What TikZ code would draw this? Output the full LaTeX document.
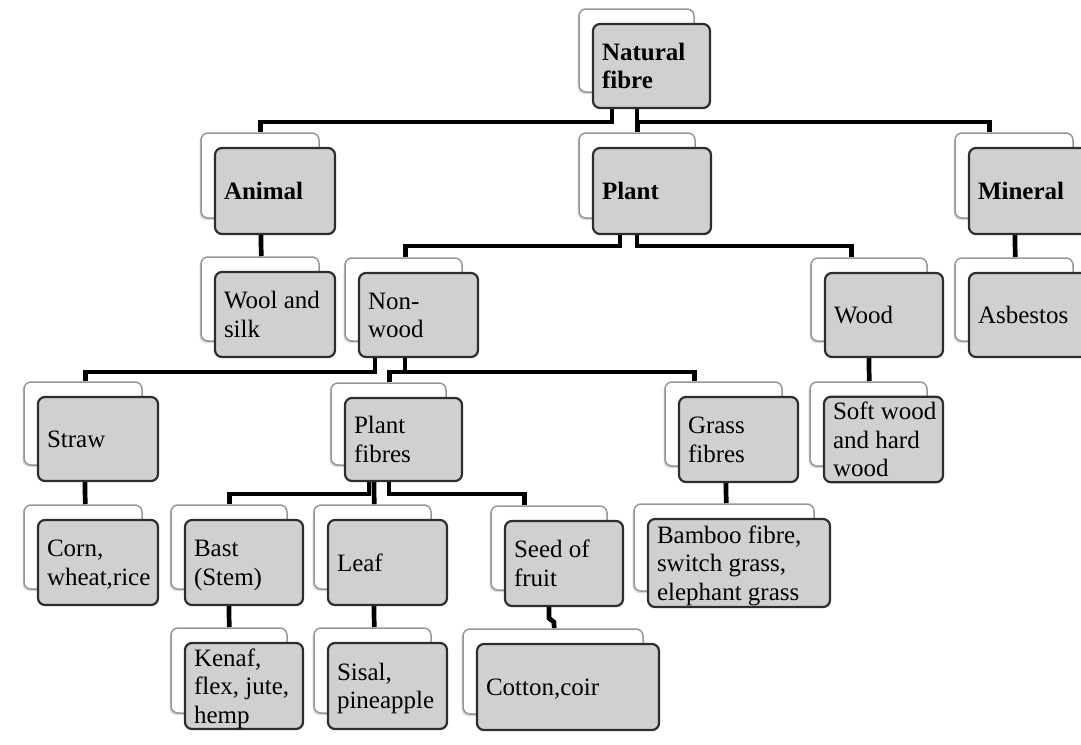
\documentclass[tikz,border=0pt]{standalone}
\usepackage{fontspec}
\setmainfont{Liberation Serif}
\usetikzlibrary{shadows}
\pgfdeclarelayer{bg}
\pgfsetlayers{bg,main}
\definecolor{boxgray}{RGB}{208,208,208}
\definecolor{boxedge}{RGB}{45,45,45}
\definecolor{backedge}{RGB}{150,150,150}
\tikzset{
  backbox/.style={draw=backedge, fill=white, line width=1.5pt, rounded corners=7pt,
    inner sep=0pt, drop shadow={shadow xshift=-1.5pt, shadow yshift=-2pt, fill=black!30, opacity=0.5}},
  frontbox/.style={draw=boxedge, fill=boxgray, line width=2.2pt, rounded corners=7pt,
    inner xsep=9pt, inner ysep=0pt,
    font=\fontsize{25}{28.5}\selectfont},
  conn/.style={draw=black, line width=4.7pt, line join=miter}
}
\newcommand{\fcard}[6]{%
  \pgfmathsetmacro\cx{#2+#4/2}\pgfmathsetmacro\cy{#3+#5/2}%
  \pgfmathsetmacro\bx{#2-14+(#4-2)/2}\pgfmathsetmacro\by{#3-15+(#5-1)/2}%
  \pgfmathsetmacro\bw{#4-2}\pgfmathsetmacro\bh{#5-1}\pgfmathsetmacro\tw{#4-18}%
  \node[backbox, minimum width=\bw pt, minimum height=\bh pt] (#1b) at (\bx,\by) {};
  \node[frontbox, minimum width=#4pt, minimum height=#5pt] (#1) at (\cx,\cy)
    {\makebox[\tw pt][l]{\raisebox{-3pt}[\height][\depth]{\begin{tabular}{@{}l@{}}#6\end{tabular}}}};
}
\begin{document}
\begin{tikzpicture}[x=1pt,y=-1pt]
\useasboundingbox (0,0) rectangle (1081,744);
% cards: name, left, top, width, height, text
\fcard{nf}{593}{24}{117}{84}{\textbf{Natural}\\\textbf{fibre}}
\fcard{an}{215}{148}{120}{86}{\textbf{Animal}}
\fcard{pl}{593}{148}{118}{86}{\textbf{Plant}}
\fcard{mi}{969}{148}{120}{86}{\textbf{Mineral}}
\fcard{wo}{215}{272}{120}{85}{Wool and\\silk}
\fcard{nw}{359}{273}{119}{84}{Non-\\wood}
\fcard{wd}{825}{273}{118}{84}{Wood}
\fcard{as}{969}{273}{120}{84}{Asbestos}
\fcard{st}{38}{397}{120}{84}{Straw}
\fcard{pf}{345}{398}{117}{83}{Plant\\fibres}
\fcard{gf}{679}{397}{119}{85}{Grass\\fibres}
\fcard{sw}{824}{397}{119}{85}{Soft wood\\and hard\\wood}
\fcard{co}{38}{520}{120}{85}{Corn,\\wheat,rice}
\fcard{ba}{185}{520}{118}{85}{Bast\\(Stem)}
\fcard{lf}{328}{520}{119}{85}{Leaf}
\fcard{sf}{505}{521}{118}{85}{Seed of\\fruit}
\fcard{bb}{648}{519}{182}{88}{Bamboo fibre,\\switch grass,\\elephant grass}
\fcard{ke}{185}{643}{118}{86}{Kenaf,\\flex, jute,\\hemp}
\fcard{si}{328}{643}{119}{86}{Sisal,\\pineapple}
\fcard{ct}{477}{644}{182}{86}{Cotton,coir}
\begin{pgfonlayer}{bg}
\draw[conn] ([xshift=20pt]nf.south west) -- ++(0,13) -| ([xshift=60pt]anb.north west);
\draw[conn] ([xshift=45pt]nf.south west) -- ++(0,13) -| ([xshift=59pt]plb.north west);
\draw[conn] ([xshift=45pt]nf.south west) -- ++(0,13) -| ([xshift=35pt]mib.north west);
\draw[conn] ([xshift=47pt]an.south west) -- ([xshift=61pt]wob.north west);
\draw[conn] ([xshift=28pt]pl.south west) -- ++(0,11) -| ([xshift=61pt]nwb.north west);
\draw[conn] ([xshift=45pt]pl.south west) -- ++(0,11) -| ([xshift=41pt]wdb.north west);
\draw[conn] ([xshift=47pt]mi.south west) -- ([xshift=61pt]asb.north west);
\draw[conn] ([xshift=17pt]nw.south west) -- ++(0,14) -| ([xshift=62pt]stb.north west);
\draw[conn] ([xshift=47pt]nw.south west) -- ++(0,14) -| ([xshift=59pt]pfb.north west);
\draw[conn] ([xshift=47pt]nw.south west) -- ++(0,14) -| ([xshift=30pt]gfb.north west);
\draw[conn] ([xshift=45pt]wd.south west) -- ([xshift=60pt]swb.north west);
\draw[conn] ([xshift=48pt]st.south west) -- ([xshift=62pt]cob.north west);
\draw[conn] ([xshift=25pt]pf.south west) -- ++(0,12) -| ([xshift=59pt]bab.north west);
\draw[conn] ([xshift=30pt]pf.south west) -- ([xshift=61pt]lfb.north west);
\draw[conn] ([xshift=45pt]pf.south west) -- ++(0,12) -| ([xshift=34pt]sfb.north west);
\draw[conn] ([xshift=48pt]gf.south west) -- ([xshift=93pt]bbb.north west);
\draw[conn] ([xshift=45pt]ba.south west) -- ([xshift=59pt]keb.north west);
\draw[conn] ([xshift=47pt]lf.south west) -- ([xshift=61pt]sib.north west);
\draw[conn] ([xshift=45pt]sf.south west) -- ++(0,11) -- ++(5,4) -- ([xshift=92pt]ctb.north west);
\end{pgfonlayer}
\end{tikzpicture}
\end{document}
